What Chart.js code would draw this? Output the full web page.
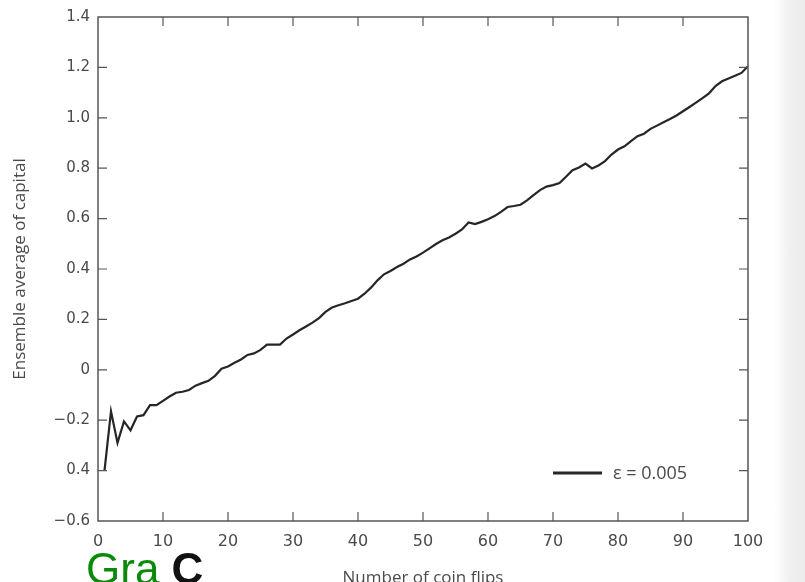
<!DOCTYPE html>
<html>
<head>
<meta charset="utf-8">
<script src="https://cdn.jsdelivr.net/npm/chart.js@4.4.0/dist/chart.umd.min.js"></script>
<style>
  body { margin: 0; width: 805px; height: 582px; overflow: hidden; position: relative;
    background: linear-gradient(to right, #fff 0, #fff 774px, #eeeeee 792px, #ebebeb 805px); }
  #c { position: absolute; left: 0; top: 0; }
  #tag { position: absolute; left: 86px; top: 547px; font-family: "Liberation Sans", Arial, sans-serif;
    font-size: 44px; line-height: 44px; white-space: nowrap; }
  #tag .g { color: #0a8a0a; }
  #tag .b { color: #111; font-weight: bold; }
</style>
</head>
<body>
<canvas id="c" width="805" height="582"></canvas>
<div id="tag"><span class="g">Gra</span> <span class="b">C</span></div>
<script>
// number of coin flips
const flips = [
  1, 2, 3, 4, 5, 6, 7, 8, 9, 10, 11, 12, 13, 14, 15, 16, 17, 18, 19, 20,
  21, 22, 23, 24, 25, 26, 27, 28, 29, 30, 31, 32, 33, 34, 35, 36, 37, 38, 39, 40,
  41, 42, 43, 44, 45, 46, 47, 48, 49, 50, 51, 52, 53, 54, 55, 56, 57, 58, 59, 60,
  61, 62, 63, 64, 65, 66, 67, 68, 69, 70, 71, 72, 73, 74, 75, 76, 77, 78, 79, 80,
  81, 82, 83, 84, 85, 86, 87, 88, 89, 90, 91, 92, 93, 94, 95, 96, 97, 98, 99, 100
];
// ensemble average of capital
const capital = [
  -0.40, -0.165, -0.29, -0.205, -0.24, -0.185, -0.18, -0.14, -0.14, -0.123,
  -0.106, -0.091, -0.087, -0.08, -0.063, -0.053, -0.044, -0.024, 0.004, 0.013,
  0.028, 0.041, 0.059, 0.065, 0.079, 0.10, 0.10, 0.10, 0.124, 0.14,
  0.157, 0.172, 0.187, 0.205, 0.23, 0.247, 0.256, 0.264, 0.273, 0.282,
  0.302, 0.326, 0.355, 0.379, 0.392, 0.408, 0.421, 0.438, 0.45, 0.465,
  0.482, 0.499, 0.514, 0.525, 0.54, 0.557, 0.585, 0.578, 0.587, 0.597,
  0.61, 0.627, 0.646, 0.65, 0.655, 0.672, 0.693, 0.713, 0.727, 0.733,
  0.741, 0.766, 0.792, 0.803, 0.818, 0.799, 0.811, 0.828, 0.854, 0.874,
  0.887, 0.907, 0.927, 0.937, 0.956, 0.969, 0.982, 0.995, 1.009, 1.026,
  1.043, 1.06, 1.078, 1.097, 1.126, 1.145, 1.156, 1.167, 1.178, 1.205
];
const seriesLabel = "\u03b5 = 0.005";

const xTicks = [0, 10, 20, 30, 40, 50, 60, 70, 80, 90, 100];
const yTicks = [-0.6, -0.4, -0.2, 0, 0.2, 0.4, 0.6, 0.8, 1.0, 1.2, 1.4];
const yTickText = ["\u22120.6", "0.4", "\u22120.2", "0", "0.2", "0.4", "0.6", "0.8", "1.0", "1.2", "1.4"];

const frameColor = "#555";
const textColor = "#4a4a4a";

// box around the plot + inward ticks on all four sides + legend
const frame = {
  id: "frame",
  afterDraw(chart) {
    const { ctx, chartArea: a, scales } = chart;
    const len = 9;
    ctx.save();
    ctx.strokeStyle = frameColor;
    ctx.lineWidth = 1.5;
    ctx.strokeRect(a.left, a.top, a.right - a.left, a.bottom - a.top);
    ctx.lineWidth = 1.2;
    ctx.beginPath();
    scales.x.ticks.forEach((t) => {
      const px = scales.x.getPixelForValue(t.value);
      if (px <= a.left + 1 || px >= a.right - 1) return;
      ctx.moveTo(px, a.bottom); ctx.lineTo(px, a.bottom - len);
      ctx.moveTo(px, a.top); ctx.lineTo(px, a.top + len);
    });
    scales.y.ticks.forEach((t) => {
      const py = scales.y.getPixelForValue(t.value);
      if (py <= a.top + 1 || py >= a.bottom - 1) return;
      ctx.moveTo(a.left, py); ctx.lineTo(a.left + len, py);
      ctx.moveTo(a.right, py); ctx.lineTo(a.right - len, py);
    });
    ctx.stroke();

    // legend
    const ds = chart.data.datasets[0];
    const ly = a.bottom - 48;
    ctx.strokeStyle = ds.borderColor;
    ctx.lineWidth = 2.8;
    ctx.beginPath();
    ctx.moveTo(a.right - 195, ly);
    ctx.lineTo(a.right - 146, ly);
    ctx.stroke();
    ctx.fillStyle = textColor;
    ctx.font = '18px "Open Sans"';
    ctx.textBaseline = "middle";
    ctx.fillText(ds.label, a.right - 135, ly + 1);
    ctx.restore();
  },
};

new Chart(document.getElementById("c"), {
  type: "line",
  data: {
    labels: flips,
    datasets: [
      {
        label: seriesLabel,
        data: flips.map((f, i) => ({ x: f, y: capital[i] })),
        borderColor: "#262626",
        borderWidth: 2.2,
        pointRadius: 0,
        tension: 0,
        fill: false,
      },
    ],
  },
  options: {
    responsive: false,
    animation: false,
    devicePixelRatio: 1,
    layout: { padding: { top: 16, right: 57, left: 0, bottom: 0 } },
    plugins: { legend: { display: false }, tooltip: { enabled: false } },
    scales: {
      x: {
        type: "linear",
        min: 0,
        max: 100,
        afterBuildTicks: (s) => { s.ticks = xTicks.map((v) => ({ value: v })); },
        afterFit: (s) => { s.height = 61; },
        grid: { display: false, drawTicks: false },
        border: { display: false },
        ticks: { padding: 11, color: textColor, font: { family: "DejaVu Sans", size: 16 }, maxRotation: 0 },
        title: {
          display: true,
          text: "Number of coin flips",
          color: textColor,
          font: { family: "Open Sans", size: 17 },
          padding: { top: 0, bottom: -6 },
        },
      },
      y: {
        min: -0.6,
        max: 1.4,
        afterBuildTicks: (s) => { s.ticks = yTicks.map((v) => ({ value: v })); },
        afterFit: (s) => { s.width = 98; },
        grid: { display: false, drawTicks: false },
        border: { display: false },
        ticks: {
          padding: 8,
          color: textColor,
          font: { family: "DejaVu Sans", size: 15 },
          callback: (v, i) => yTickText[i],
        },
        title: {
          display: true,
          text: "Ensemble average of capital",
          color: textColor,
          font: { family: "Open Sans", size: 17 },
          padding: { top: 10, bottom: 0 },
        },
      },
    },
  },
  plugins: [frame],
});
</script>
</body>
</html>
